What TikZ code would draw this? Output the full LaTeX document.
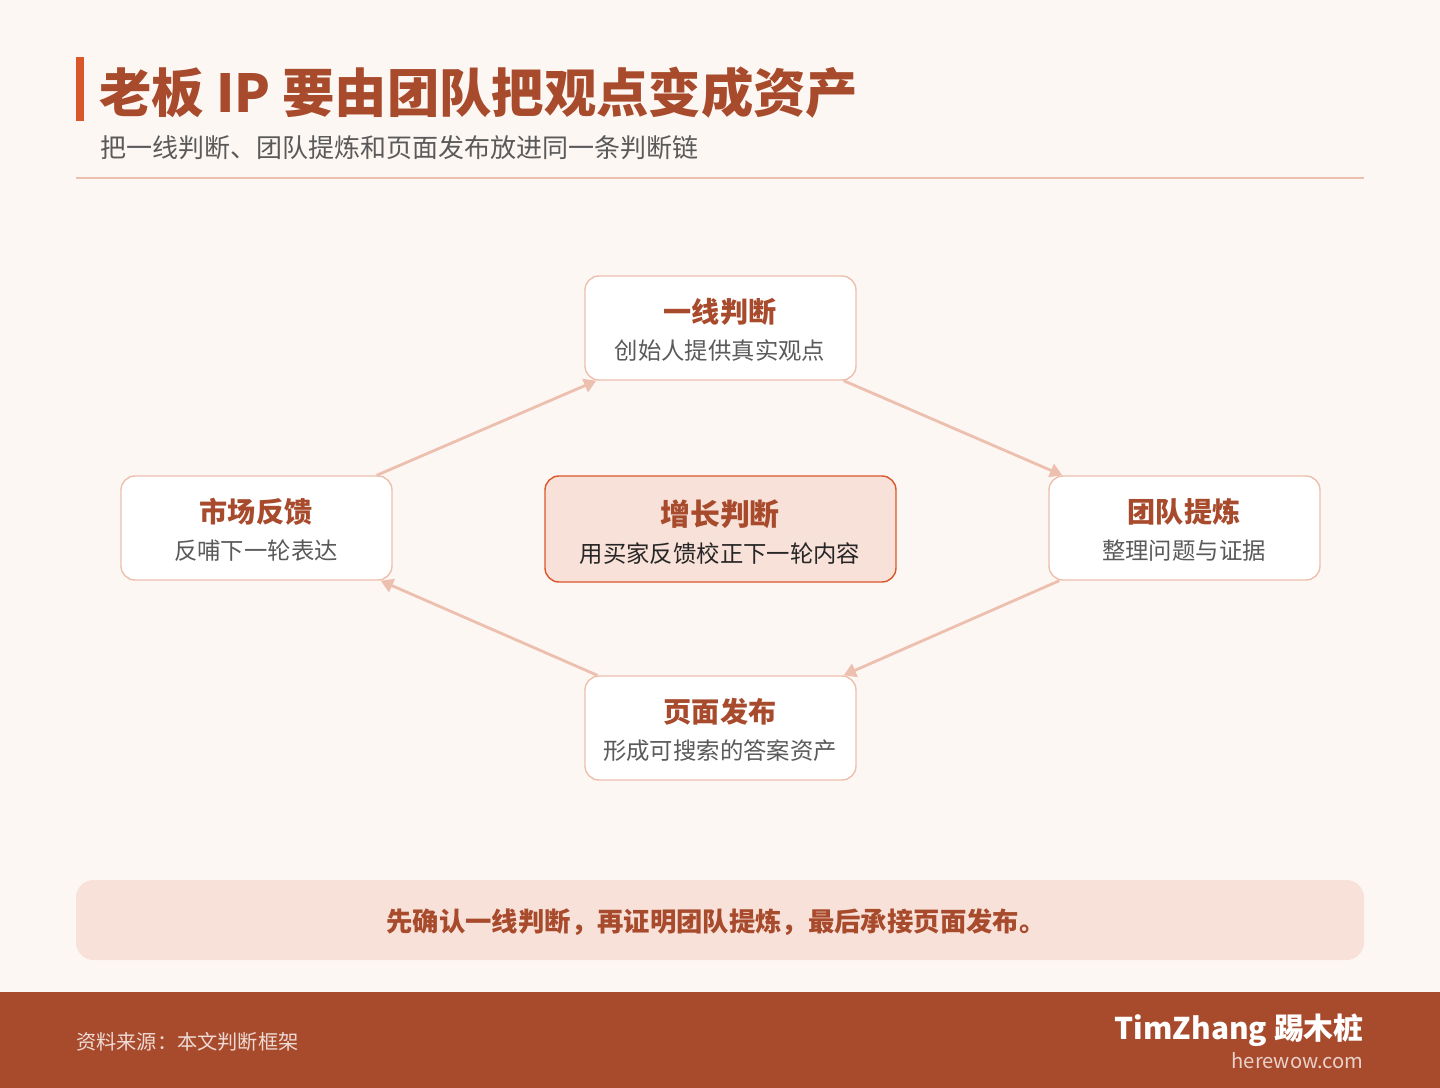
\documentclass[tikz,border=0pt]{standalone}
\usepackage{fontspec}
\setmainfont{Noto Sans CJK SC}
\newfontfamily\cjk{Noto Sans CJK SC}
\usetikzlibrary{positioning,arrows.meta}
\definecolor{bgpaper}{HTML}{FDF7F4}
\definecolor{rust}{HTML}{A84A2C}
\definecolor{accent}{HTML}{D9572B}
\definecolor{blush}{HTML}{F8E1D9}
\definecolor{rosy}{HTML}{EDBFAE}
\definecolor{inkgray}{HTML}{5A5A5A}
\begin{document}
\begin{tikzpicture}[x=0.02cm,y=-0.02cm,
  stage/.style={draw=rosy,fill=white,rounded corners=8pt,line width=0.8pt,minimum width=271*0.02cm,minimum height=104*0.02cm},
  hub/.style={stage,draw=accent,fill=blush,minimum width=351*0.02cm,minimum height=106*0.02cm},
  head/.style={font=\bfseries\fontsize{16}{18}\selectfont,text=rust},
  sub/.style={font=\fontsize{13.3}{15}\selectfont,text=inkgray},
  flow/.style={draw=rosy,line width=1.6pt,-{Triangle[length=7pt,width=8pt]}}]
  \useasboundingbox (0,0) rectangle (1440,1088);
  \fill[bgpaper] (0,0) rectangle (1440,1088);
  % header
  \fill[accent] (76,57) rectangle (84,121);
  \node[anchor=west,inner sep=0,font=\bfseries\fontsize{29.8}{32}\selectfont,text=rust] (title) at (99,93) {老板 IP 要由团队把观点变成资产};
  \node[anchor=west,inner sep=0,font=\fontsize{14.8}{17}\selectfont,text=inkgray] (subtitle) at (100,148) {把一线判断、团队提炼和页面发布放进同一条判断链};
  \draw[rosy,line width=0.8pt] (76,178) -- (1364,178);
  % cycle
  \node[stage] (top) at (720.5,328) {};
  \node[stage] (lft) at (256.5,528) {};
  \node[stage] (rgt) at (1184.5,528) {};
  \node[stage] (bot) at (720.5,728) {};
  \node[hub] (mid) at (720.5,529) {};
  \node[head] at (720,312) {一线判断};
  \node[sub] at (720,351) {创始人提供真实观点};
  \node[head] at (256,512) {市场反馈};
  \node[sub] at (256,551) {反哺下一轮表达};
  \node[head] at (1184,512) {团队提炼};
  \node[sub] at (1184,551) {整理问题与证据};
  \node[head] at (720,712) {页面发布};
  \node[sub] at (720,751) {形成可搜索的答案资产};
  \node[head,font=\bfseries\fontsize{17}{19}\selectfont] at (720,514) {增长判断};
  \node[sub,text=black!85] at (720,554) {用买家反馈校正下一轮内容};
  \draw[flow] ([xshift=-16*0.02cm]lft.north east) -- ([xshift=12*0.02cm]top.south west);
  \draw[flow] ([xshift=-13*0.02cm]top.south east) -- ([xshift=14*0.02cm]rgt.north west);
  \draw[flow] ([xshift=11*0.02cm]rgt.south west) -- ([xshift=-13*0.02cm]bot.north east);
  \draw[flow] ([xshift=13*0.02cm]bot.north west) -- ([xshift=-12*0.02cm]lft.south east);
  % note
  \fill[blush,rounded corners=10pt] (76,880) rectangle (1364,960);
  \node[font=\bfseries\fontsize{15}{17}\selectfont,text=rust] (note) at (716,922) {先确认一线判断，再证明团队提炼，最后承接页面发布。};
  % footer
  \fill[rust] (0,992) rectangle (1440,1088);
  \node[anchor=west,inner sep=0,font=\fontsize{11.5}{13}\selectfont,text=white!80!rust] (src) at (76,1042) {资料来源：本文判断框架};
  \node[anchor=east,inner sep=0,font=\bfseries\fontsize{17}{19}\selectfont,text=white] (brand) at (1364,1030) {TimZhang 踢木桩};
  \node[anchor=east,inner sep=0,font=\fontsize{11.5}{13}\selectfont,text=white!75!rust] (site) at (1364,1061) {herewow.com};
\end{tikzpicture}
\end{document}
